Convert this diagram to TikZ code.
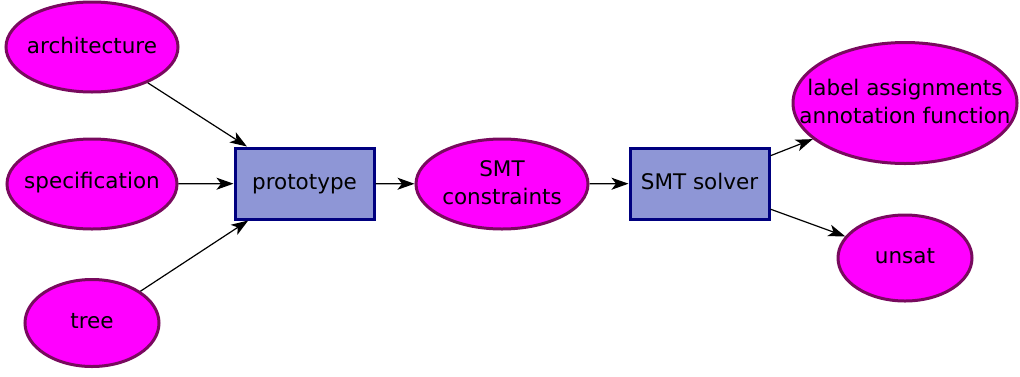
\documentclass[tikz,border=0pt]{standalone}
\usepackage{fontspec}
\setmainfont{DejaVu Sans}
\usetikzlibrary{shapes.geometric,arrows.meta}
\definecolor{ellfill}{HTML}{FF00FF}
\definecolor{elldraw}{HTML}{780A5E}
\definecolor{boxfill}{HTML}{8E96D6}
\definecolor{boxdraw}{HTML}{00007F}
\tikzset{
  ell/.style={ellipse, draw=elldraw, fill=ellfill, line width=3pt, inner sep=0pt,
    label={[align=center, inner sep=0pt, yshift=1.5pt]center:#1}},
  procbox/.style={rectangle, draw=boxdraw, fill=boxfill, line width=3pt, inner sep=0pt,
    minimum width=139pt, minimum height=71pt, align=center},
  conn/.style={-{Stealth[length=17pt,width=12pt,inset=4.5pt]}, line width=1.2pt, black},
}
\begin{document}
\begin{tikzpicture}[x=1pt,y=-1pt,font=\fontsize{21.5}{28}\selectfont]
\useasboundingbox (0,0) rectangle (1020,376);
\node[ell={architecture}, minimum width=172pt, minimum height=90pt] (arch) at (92,47) {};
\node[ell={specification}, minimum width=170pt, minimum height=90pt] (spec) at (92,184) {};
\node[ell={tree}, minimum width=134pt, minimum height=87pt] (tree) at (92,323) {};
\node[procbox] (proto) at (304.5,183.5) {\strut prototype};
\node[ell={SMT\\constraints}, minimum width=172pt, minimum height=90pt] (smtc) at (502,184) {};
\node[procbox] (solver) at (699.5,183.5) {\strut SMT solver};
\node[ell={label assignments\\annotation function}, minimum width=224pt, minimum height=121pt] (label) at (905,103) {};
\node[ell={unsat}, minimum width=134pt, minimum height=86pt] (unsat) at (905,258) {};
\draw[conn] (arch) -- (proto);
\draw[conn] (spec) -- (proto);
\draw[conn] (tree) -- (proto);
\draw[conn] (proto) -- (smtc);
\draw[conn] (smtc) -- (solver);
\draw[conn] (solver) -- (label);
\draw[conn] (solver) -- (unsat);
\end{tikzpicture}
\end{document}
